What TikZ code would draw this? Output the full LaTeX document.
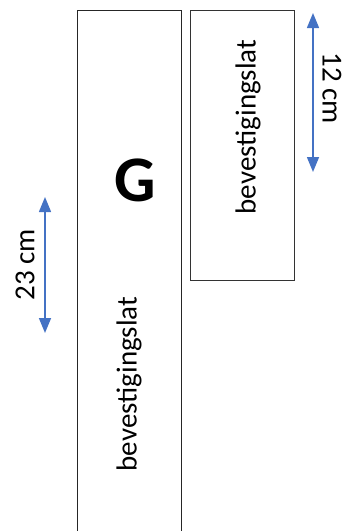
\documentclass[tikz,border=0pt]{standalone}
\usepackage{fontspec}
\setmainfont{Carlito}
\usetikzlibrary{arrows.meta}

\definecolor{maatblauw}{HTML}{4472C4}

\tikzset{
    lat/.style={font=\fontsize{29}{34}\selectfont, rotate=90},
    maat/.style={draw=maatblauw, line width=1.5pt,
        {Triangle[width=12pt,length=15pt,fill=maatblauw]}-{Triangle[width=12pt,length=15pt,fill=maatblauw]}},
}

\begin{document}
\begin{tikzpicture}[x=1pt,y=-1pt]
\useasboundingbox (0,0) rectangle (343,531);

% lange lat, loopt onder door
\draw[black!85, line width=1pt] (77,540) -- (77,10) -- (181,10) -- (181,540);
\node (letter) at (135,180) {\fontsize{65}{76}\selectfont\bfseries G};
\node (lang) at (129,384) [lat] {bevestigingslat};

% korte lat
\node (kort) at (242,145) [draw=black!80, line width=1pt,
    minimum width=104pt, minimum height=270pt] {};
\node (kortlat) at (248,127) [lat] {bevestigingslat};

% maten
\coordinate (m23a) at (45,197);
\coordinate (m23b) at (45,333);
\coordinate (m12a) at (313,13);
\coordinate (m12b) at (313,172);

\draw[maat] (m23a) -- (m23b);
\draw[maat] (m12a) -- (m12b);

\node (t23) at (25,265) [lat] {23 cm};
\node (t12) at (332,88) [lat, rotate=180] {12 cm};
\end{tikzpicture}
\end{document}
